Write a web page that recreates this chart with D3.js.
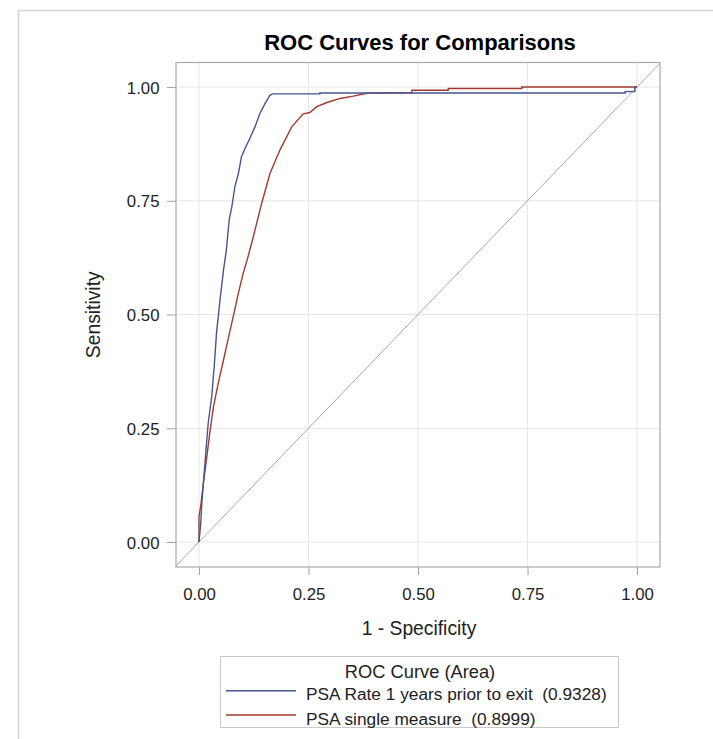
<!DOCTYPE html>
<html>
<head>
<meta charset="utf-8">
<script src="https://cdn.jsdelivr.net/npm/d3@7"></script>
<style>
  html, body { margin: 0; padding: 0; background: #fff; }
  svg { display: block; font-family: "Liberation Sans", Arial, sans-serif; }
  svg text { white-space: pre; }
</style>
</head>
<body>
<svg id="chart" width="713" height="739"></svg>
<script>
// ---- data ----
const chartTitle = "ROC Curves for Comparisons";
const xLabel = "1 - Specificity";
const yLabel = "Sensitivity";
const tickValues = [0, 0.25, 0.5, 0.75, 1.0];
const legendTitle = "ROC Curve (Area)";
const seriesNames = ["PSA Rate 1 years prior to exit  (0.9328)", "PSA single measure  (0.8999)"];
const seriesColors = ["#445694", "#a23a2e"];

// PSA Rate 1 years prior to exit: [1 - specificity, sensitivity]
const rateCurve = [
  [0,0],[0.003,0.03],[0.004,0.041],[0.006,0.078],[0.010,0.129],[0.015,0.19],
  [0.021,0.261],[0.029,0.319],[0.035,0.389],[0.040,0.459],[0.048,0.532],
  [0.056,0.598],[0.062,0.638],[0.069,0.708],[0.075,0.737],[0.082,0.781],
  [0.090,0.810],[0.097,0.847],[0.105,0.865],[0.116,0.887],[0.128,0.913],
  [0.139,0.942],[0.151,0.964],[0.162,0.982],[0.168,0.985],[0.276,0.985],
  [0.276,0.987],[0.973,0.987],[0.973,0.990],[0.995,0.990],[0.995,1.0],[1,1]
];
// PSA single measure
const singleCurve = [
  [0,0],[0,0.056],[0.004,0.08],[0.010,0.129],[0.018,0.188],[0.024,0.235],
  [0.033,0.297],[0.044,0.349],[0.056,0.400],[0.067,0.448],[0.078,0.495],
  [0.090,0.547],[0.101,0.591],[0.110,0.620],[0.124,0.671],[0.143,0.744],
  [0.162,0.810],[0.185,0.862],[0.212,0.913],[0.238,0.941],[0.253,0.944],
  [0.269,0.957],[0.292,0.966],[0.322,0.975],[0.352,0.980],[0.386,0.987],
  [0.486,0.988],[0.486,0.993],[0.569,0.993],[0.569,0.997],[0.737,0.997],
  [0.737,1.0],[1,1]
];
const series = [rateCurve, singleCurve];

// ---- layout ----
const svg = d3.select("#chart");
const plot = {left: 176, right: 660, top: 62.5, bottom: 567};
const x = d3.scaleLinear().domain([-0.0525, 1.0525]).range([plot.left, plot.right]);
const y = d3.scaleLinear().domain([-0.055, 1.054]).range([plot.bottom, plot.top]);
const txt = "#222";

// outer frame
svg.append("path")
  .attr("d", `M18.5,739 L18.5,10.5 L713,10.5`)
  .attr("fill", "none").attr("stroke", "#d4d4d4").attr("stroke-width", 1.5);

// title
svg.append("text")
  .attr("x", 420).attr("y", 50)
  .attr("text-anchor", "middle")
  .attr("font-size", 22).attr("font-weight", "bold").attr("fill", "#000")
  .text(chartTitle);

// clip
svg.append("defs").append("clipPath").attr("id", "clip")
  .append("rect").attr("x", plot.left).attr("y", plot.top)
  .attr("width", plot.right - plot.left).attr("height", plot.bottom - plot.top);

// grid
const grid = svg.append("g");
grid.selectAll(".vg").data(tickValues).join("line")
  .attr("x1", d => x(d)).attr("x2", d => x(d))
  .attr("y1", plot.top).attr("y2", plot.bottom)
  .attr("stroke", "#e6e6e6").attr("stroke-width", 1);
grid.selectAll(".hg").data(tickValues).join("line")
  .attr("y1", d => y(d)).attr("y2", d => y(d))
  .attr("x1", plot.left).attr("x2", plot.right)
  .attr("stroke", "#e6e6e6").attr("stroke-width", 1);

// diagonal reference
const dom = x.domain();
svg.append("line")
  .attr("clip-path", "url(#clip)")
  .attr("x1", x(dom[0])).attr("y1", y(dom[0]))
  .attr("x2", x(dom[1])).attr("y2", y(dom[1]))
  .attr("stroke", "#a8a8a8").attr("stroke-width", 1);

// curves
const line = d3.line().x(d => x(d[0])).y(d => y(d[1]));
svg.append("g").attr("clip-path", "url(#clip)")
  .selectAll("path").data(series.slice().reverse()).join("path")
  .attr("d", line)
  .attr("fill", "none")
  .attr("stroke", (d, i) => seriesColors[series.length - 1 - i])
  .attr("stroke-width", 1.4);

// axes
const fmt = d3.format(".2f");
const xAxis = svg.append("g").attr("transform", `translate(0,${plot.bottom})`)
  .call(d3.axisBottom(x).tickValues(tickValues).tickFormat(fmt).tickSizeInner(8).tickSizeOuter(0).tickPadding(6));
const yAxis = svg.append("g").attr("transform", `translate(${plot.left},0)`)
  .call(d3.axisLeft(y).tickValues(tickValues).tickFormat(fmt).tickSizeInner(9).tickSizeOuter(0).tickPadding(7.5));
[xAxis, yAxis].forEach(a => {
  a.select(".domain").remove();
  a.selectAll(".tick line").attr("stroke", "#a0a0a0");
  a.selectAll(".tick text").attr("fill", txt).attr("font-size", 16.8)
    .attr("font-family", "'Liberation Sans', Arial, sans-serif");
});
xAxis.selectAll(".tick text").attr("dy", null).attr("y", 33);
yAxis.selectAll(".tick text").attr("dy", "0.36em");

// plot border
svg.append("rect")
  .attr("x", plot.left).attr("y", plot.top)
  .attr("width", plot.right - plot.left).attr("height", plot.bottom - plot.top)
  .attr("fill", "none").attr("stroke", "#a8a8a8").attr("stroke-width", 1.2);

// axis labels
svg.append("text")
  .attr("x", 419).attr("y", 635)
  .attr("text-anchor", "middle").attr("font-size", 19.3).attr("fill", txt)
  .text(xLabel);
svg.append("text")
  .attr("transform", `translate(99.5,${(plot.top + plot.bottom) / 2}) rotate(-90)`)
  .attr("text-anchor", "middle").attr("font-size", 19.3).attr("fill", txt)
  .text(yLabel);

// legend
const lg = svg.append("g");
lg.append("rect")
  .attr("x", 220.5).attr("y", 656.5).attr("width", 398).attr("height", 71)
  .attr("fill", "#fff").attr("stroke", "#c8c8c8").attr("stroke-width", 1);
lg.append("text")
  .attr("x", 420).attr("y", 678)
  .attr("text-anchor", "middle").attr("font-size", 18.3).attr("fill", txt)
  .text(legendTitle);
const entries = lg.selectAll(".entry").data(seriesNames).join("g")
  .attr("transform", (d, i) => `translate(0,${690.7 + i * 24.3})`);
entries.append("line")
  .attr("x1", 226).attr("x2", 296).attr("y1", 0).attr("y2", 0)
  .attr("stroke", (d, i) => seriesColors[i]).attr("stroke-width", 1.4);
entries.append("text")
  .attr("x", 306).attr("y", 9.5)
  .attr("font-size", 17.3).attr("fill", txt)
  .text(d => d);
</script>
</body>
</html>
